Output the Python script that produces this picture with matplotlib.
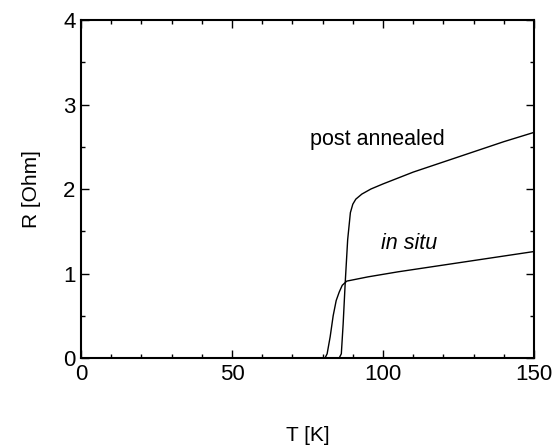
import matplotlib
matplotlib.use("Agg")
import matplotlib.pyplot as plt
from matplotlib.ticker import MultipleLocator

plt.rcParams['font.family'] = ['Liberation Sans', 'DejaVu Sans']

T_post = [0, 85.5, 86.2, 86.8, 87.5, 88.3, 89.2, 90, 91, 93, 96, 100, 110, 120, 130, 140, 150]
R_post = [0, 0, 0.05, 0.4, 0.9, 1.4, 1.72, 1.82, 1.88, 1.94, 2.0, 2.06, 2.2, 2.32, 2.44, 2.56, 2.67]

T_insitu = [0, 80.8, 81.5, 82.5, 83.5, 84.5, 85.5, 86.5, 88, 95, 105, 120, 135, 150]
R_insitu = [0, 0, 0.05, 0.25, 0.5, 0.68, 0.78, 0.86, 0.91, 0.96, 1.02, 1.1, 1.18, 1.26]

xticks = [0, 50, 100, 150]
yticks = [0, 1, 2, 3, 4]

fig = plt.figure(figsize=(5.55, 4.48), dpi=100)
ax = fig.add_axes([81/555, 1 - 358/448, (534-81)/555, (358-20)/448])

ax.plot(T_post, R_post, color='black', lw=1.0)
ax.plot(T_insitu, R_insitu, color='black', lw=1.0)

ax.set_xlim(0, 150)
ax.set_ylim(0, 4)
ax.set_xticks(xticks)
ax.set_yticks(yticks)
ax.xaxis.set_minor_locator(MultipleLocator(10))
ax.yaxis.set_minor_locator(MultipleLocator(0.5))
ax.tick_params(which='both', direction='in', top=True, right=True, labelsize=16, width=1)
ax.tick_params(which='major', length=6, pad=4)
ax.tick_params(which='minor', length=3)
for s in ax.spines.values():
    s.set_linewidth(1.5)

ax.set_xlabel('T [K]', fontsize=15, labelpad=30)
ax.set_ylabel('R [Ohm]', fontsize=15, labelpad=16)

ax.text(98.3, 2.58, 'post annealed', fontsize=15.5, ha='center', va='center')
ax.text(108.6, 1.35, 'in situ', fontsize=15.5, ha='center', va='center', style='italic')

fig.savefig('out.png', dpi=100)
